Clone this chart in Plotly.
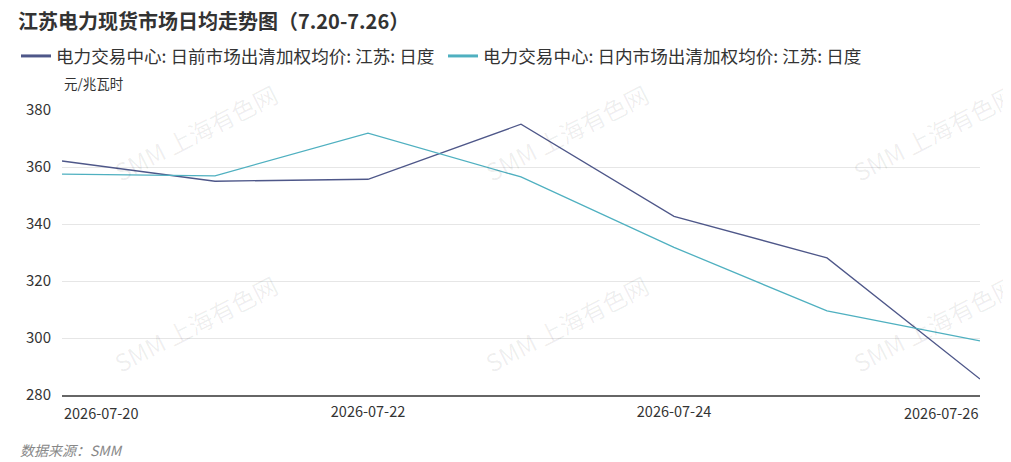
import plotly.graph_objects as go

# 日期与两条价格序列（元/兆瓦时）
dates = ["2026-07-20", "2026-07-21", "2026-07-22", "2026-07-23",
         "2026-07-24", "2026-07-25", "2026-07-26"]
day_ahead = [362.1, 355.0, 355.7, 375.0, 342.7, 328.1, 285.6]
intraday = [357.5, 356.9, 371.9, 356.5, 331.8, 309.5, 299.0]

name_da = "电力交易中心: 日前市场出清加权均价: 江苏: 日度"
name_id = "电力交易中心: 日内市场出清加权均价: 江苏: 日度"
c_da = "#4e5789"
c_id = "#4fb0c0"

shown_ticks = ["2026-07-22", "2026-07-24"]
y_ticks = [280, 300, 320, 340, 360, 380]

font = "Noto Sans CJK SC"

# page body has an 8px margin, so the figure is a bit smaller than the window
W, H = 1003, 454

fig = go.Figure()

fig.add_trace(go.Scatter(x=dates, y=day_ahead, mode="lines", showlegend=False,
                         line=dict(color=c_da, width=1.3)))
fig.add_trace(go.Scatter(x=dates, y=intraday, mode="lines", showlegend=False,
                         line=dict(color=c_id, width=1.3)))
# legend entries with thicker strokes
fig.add_trace(go.Scatter(x=[None], y=[None], mode="lines", name=name_da,
                         line=dict(color=c_da, width=3)))
fig.add_trace(go.Scatter(x=[None], y=[None], mode="lines", name=name_id,
                         line=dict(color=c_id, width=3)))

annotations = [
    dict(text="元/兆瓦时", xref="paper", yref="paper", x=0, y=1, yshift=27,
         xanchor="left", yanchor="middle", showarrow=False,
         font=dict(size=13.5, color="#333")),
    dict(text=dates[0], xref="x", yref="paper", x=dates[0], y=0, yshift=-17,
         xanchor="left", yanchor="middle", showarrow=False,
         font=dict(size=14.5, color="#333")),
    dict(text=dates[-1], xref="x", yref="paper", x=dates[-1], y=0, yshift=-17,
         xanchor="right", yanchor="middle", showarrow=False,
         font=dict(size=14.5, color="#333")),
    dict(text="<i>数据来源：SMM</i>", xref="paper", yref="paper", x=0, y=0,
         xshift=-44, yshift=-55, xanchor="left", yanchor="middle", showarrow=False,
         font=dict(size=14, color="#888")),
]

# watermark
for wx in [195, 566, 934]:
    for wy in [132, 323]:
        annotations.append(dict(
            text="SMM 上海有色网", xref="paper", yref="paper",
            x=(wx - 62) / 918, y=(395 - wy) / 285, showarrow=False,
            xanchor="center", yanchor="middle",
            textangle=-27, font=dict(size=24, color="rgba(0,0,0,0.065)")))

fig.update_layout(
    width=W, height=H,
    margin=dict(l=54, r=31, t=102, b=67, autoexpand=False),
    paper_bgcolor="white", plot_bgcolor="white",
    font=dict(family=font, color="#333"),
    title=dict(text="<b>江苏电力现货市场日均走势图（7.20-7.26）</b>",
               x=10 / W, xanchor="left", y=1 - 14 / H, yanchor="middle",
               font=dict(size=20, color="#333")),
    legend=dict(orientation="h", xref="container", yref="container",
                x=8 / W, y=1 - 30 / H, xanchor="left", yanchor="top",
                entrywidth=382, entrywidthmode="pixels",
                font=dict(size=17.6, color="#333"), itemwidth=30),
    xaxis=dict(type="category", range=[0, len(dates) - 1],
               tickvals=shown_ticks, ticktext=shown_ticks,
               showgrid=False, showline=True, linecolor="#666", linewidth=1.5,
               ticks="", ticklabelstandoff=3, tickfont=dict(size=14.5, color="#333")),
    yaxis=dict(range=[280, 380], tickvals=y_ticks, showgrid=True,
               gridcolor="#e6e6e6", gridwidth=1, zeroline=False,
               showline=False, ticks="", ticklabelstandoff=10,
               tickfont=dict(size=15, color="#333")),
    annotations=annotations,
)

fig.write_html("out.html")
